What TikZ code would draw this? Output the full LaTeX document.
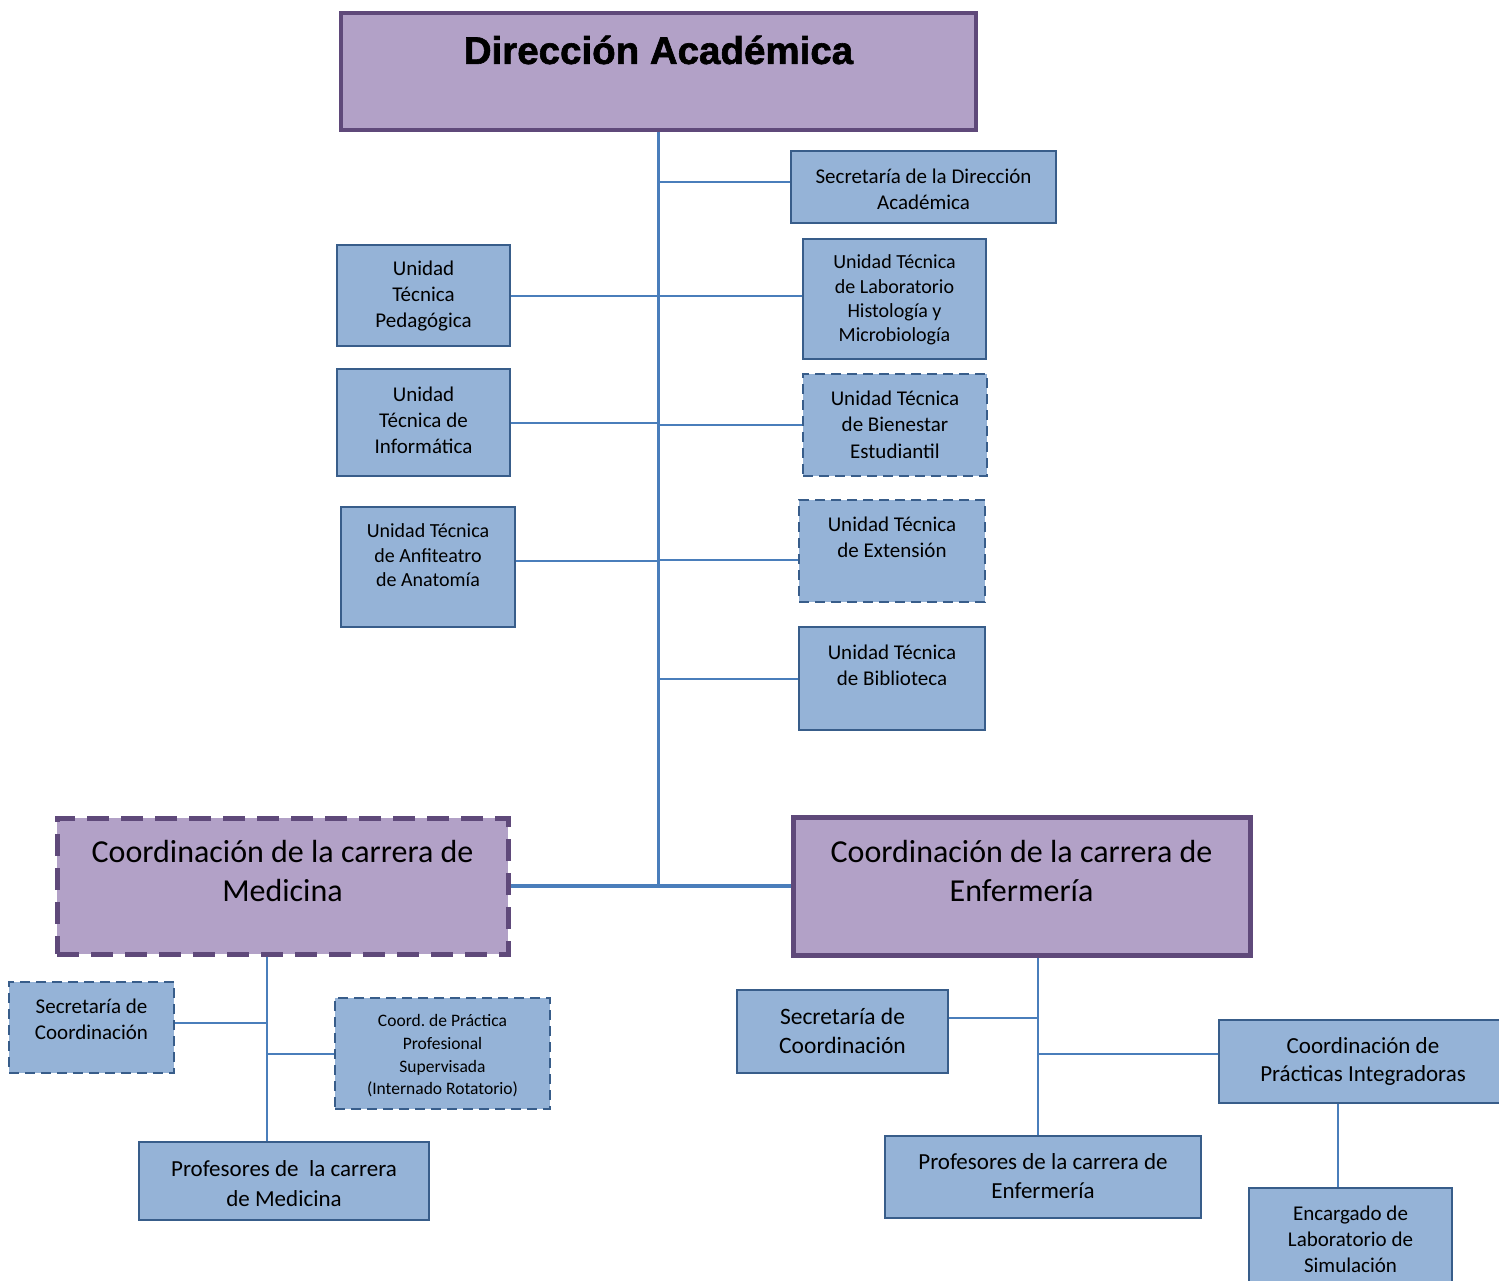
\documentclass[tikz,border=0pt]{standalone}
\usepackage{fontspec}
\setmainfont{Carlito}
\newfontfamily\titlefont[BoldFeatures={FakeBold=1.6}]{Liberation Sans}
\definecolor{pfill}{HTML}{B2A1C7}
\definecolor{pborder}{HTML}{5F497A}
\definecolor{bfill}{HTML}{95B3D7}
\definecolor{bborder}{HTML}{385D8A}
\definecolor{conn}{HTML}{4A7EBB}
\tikzset{
  bbox/.style={draw=bborder, fill=bfill, line width=2.5pt},
  bdash/.style={bbox, dash pattern=on 10pt off 6pt},
  pbox/.style={draw=pborder, fill=pfill, line width=3.5pt},
  pboxthick/.style={pbox, line width=5pt},
  pdash/.style={pbox, line width=5pt, dash pattern=on 22pt off 12pt},
  link/.style={draw=conn, line width=2pt},
  thicklink/.style={draw=conn, line width=3.5pt},
}
\newcommand\orgbox[9]{%
  \node[#2, minimum width={#5-#3}, minimum height={#6-#4}, inner sep=0pt] (#1) at ({(#3+#5)/2},{(#4+#6)/2}) {};
  \node[align=center, inner sep=0pt, font=#8] (#1-t) at ({(#3+#5)/2},#7) {#9};}
\begin{document}
\begin{tikzpicture}[x=1pt,y=-1pt]
\clip (0,0) rectangle (1499,1280);
\fill[white] (0,0) rectangle (1499,1280);
\coordinate (mx) at (267,0);
\coordinate (ex) at (1038,0);
\coordinate (cx) at (1338,0);
\coordinate (tj) at (658.5,885);
% boxes
\orgbox{top}{pbox}{341}{13}{976}{130}{50}{\titlefont\bfseries\fontsize{38.5}{46}\selectfont}{Dirección Académica}
\orgbox{secd}{bbox}{791}{151}{1056}{223}{189}{\fontsize{21}{26}\selectfont}{Secretaría de la Dirección\\Académica}
\orgbox{ped}{bbox}{337}{245}{510}{346}{296}{\fontsize{21}{26}\selectfont}{Unidad\\Técnica\\Pedagógica}
\orgbox{lab}{bbox}{803}{239}{986}{359}{300}{\fontsize{20}{24.3}\selectfont}{Unidad Técnica\\de Laboratorio\\Histología y\\Microbiología}
\orgbox{inf}{bbox}{337}{369}{510}{476}{420}{\fontsize{21}{26}\selectfont}{Unidad\\Técnica de\\Informática}
\orgbox{bien}{bdash}{803}{374}{987}{476}{424.5}{\fontsize{21}{26.5}\selectfont}{Unidad Técnica\\de Bienestar\\Estudiantil}
\orgbox{anf}{bbox}{341}{507}{515}{627}{555.5}{\fontsize{20}{24.5}\selectfont}{Unidad Técnica\\de Anfiteatro\\de Anatomía}
\orgbox{ext}{bdash}{799}{500}{985}{602}{537}{\fontsize{21}{26}\selectfont}{Unidad Técnica\\de Extensión}
\orgbox{bib}{bbox}{799}{627}{985}{730}{665}{\fontsize{21}{26}\selectfont}{Unidad Técnica\\de Biblioteca}
\orgbox{med}{pdash}{57}{818}{508}{954}{870.5}{\fontsize{32}{39}\selectfont}{Coordinación de la carrera de\\Medicina}
\orgbox{enf}{pboxthick}{793}{817}{1250}{955}{870.5}{\fontsize{32}{39}\selectfont}{Coordinación de la carrera de\\Enfermería}
\orgbox{secm}{bdash}{9}{982}{174}{1073}{1019}{\fontsize{21}{26}\selectfont}{Secretaría de\\Coordinación}
\orgbox{cpp}{bdash}{335}{998}{550}{1109}{1056}{\fontsize{17.5}{22.6}\selectfont}{Coord.\ de Práctica\\Profesional\\Supervisada\\(Internado Rotatorio)}
\orgbox{profm}{bbox}{139}{1142}{429}{1220}{1183.5}{\fontsize{23}{29.5}\selectfont}{Profesores de\ \ la carrera\\de Medicina}
\orgbox{sece}{bbox}{737}{990}{948}{1073}{1030.5}{\fontsize{23.5}{29}\selectfont}{Secretaría de\\Coordinación}
\orgbox{cpi}{bbox}{1219}{1020}{1507}{1103}{1061}{\fontsize{23}{28}\selectfont}{Coordinación de\\Prácticas Integradoras}
\orgbox{profe}{bbox}{885}{1136}{1201}{1218}{1176.5}{\fontsize{23}{29}\selectfont}{Profesores de la carrera de\\Enfermería}
\orgbox{enc}{bbox}{1249}{1188}{1452}{1300}{1239}{\fontsize{21}{26}\selectfont}{Encargado de\\Laboratorio de\\Simulación}
% connectors
\draw[thicklink] (top.south) -- ([yshift=-1.75pt]tj);
\draw[link] ([yshift=5pt]secd.west) -- ([yshift=5pt]secd.west -| top.south);
\draw[link] (ped.east) -- (ped.east -| lab.west);
\draw[link] (inf.east) -- (inf.east -| top.south);
\draw[link] (bien.west) -- (bien.west -| top.south);
\draw[link] ([yshift=6pt]anf.east) -- ([yshift=6pt]anf.east -| top.south);
\draw[link] ([yshift=-9pt]ext.west) -- ([yshift=-9pt]ext.west -| top.south);
\draw[link] (bib.west) -- (bib.west -| top.south);
\draw[thicklink] (med.east) -- (med.east -| top.south);
\draw[thicklink] (enf.west) -- (enf.west -| top.south);
\draw[link] (med.south -| mx) -- (profm.north -| mx);
\draw[link] ([yshift=5pt]secm.east) -- ([yshift=5pt]secm.east -| mx);
\draw[link] (cpp.west) -- (cpp.west -| mx);
\draw[link] (enf.south -| ex) -- (profe.north -| ex);
\draw[link] ([yshift=13.5pt]sece.east) -- ([yshift=13.5pt]sece.east -| ex);
\draw[link] ([yshift=7.5pt]cpi.west) -- ([yshift=7.5pt]cpi.west -| ex);
\draw[link] (cpi.south -| cx) -- (enc.north -| cx);
\end{tikzpicture}
\end{document}
